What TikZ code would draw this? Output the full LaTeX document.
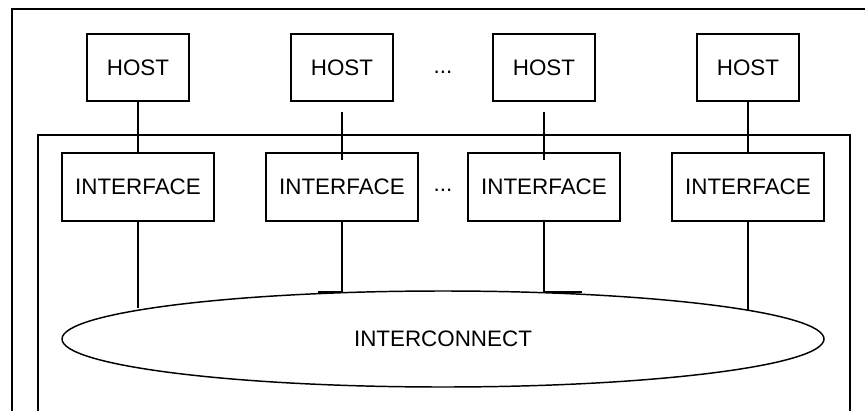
\documentclass[tikz,border=0pt]{standalone}
\usepackage{fontspec}
\setmainfont{Liberation Sans}
\usetikzlibrary{shapes.geometric}

\tikzset{
  box/.style={draw, line width=1.3pt, inner sep=0pt},
  host/.style={box, minimum width=76.5pt, minimum height=50.25pt},
  iface/.style={box, minimum width=114pt, minimum height=51pt},
  link/.style={line width=1.3pt},
}

\begin{document}
\begin{tikzpicture}[x=0.75pt, y=-0.75pt, font=\fontsize{16.8}{20}\selectfont]

  \useasboundingbox (0,0) rectangle (865,411);

  \draw [link] (12,411) -- (12,9) -- (865,9);
  \draw [link] (38,411) -- (38,135) -- (850,135) -- (850,411);

  \foreach \x [count=\i] in {138,342,544,748}
  \node [host] (host-\i) at (\x,67.5) {HOST};

  \foreach \x [count=\i] in {138,342,544,748}
  \node [iface] (iface-\i) at (\x,187) {INTERFACE};

  \node [draw, ellipse, line width=1.1pt, inner sep=0pt,
         minimum width=571.5pt, minimum height=72pt] (net) at (443,339) {INTERCONNECT};

  \node (dots-host) at (443,72.5) {...};
  \node (dots-iface) at (443,190) {...};

  \foreach \i in {1,4}
  \draw [link] (host-\i.south) -- (iface-\i.north);

  \foreach \i in {2,3}
  \draw [link] ([yshift=-7.5pt]host-\i.south) -- ([yshift=-6pt]iface-\i.north);

  \draw [link] (iface-1.south) -- (iface-1.south |- net.174.6);
  \draw [link] (iface-4.south) -- (iface-4.south |- net.5.4);
  \draw [link] (iface-2.south) -- ([yshift=-1.3pt]iface-2.south |- net.north) -- ++(-24,0);
  \draw [link] (iface-3.south) -- ([yshift=-1.1pt]iface-3.south |- net.north) -- ++(38,0);

\end{tikzpicture}
\end{document}
